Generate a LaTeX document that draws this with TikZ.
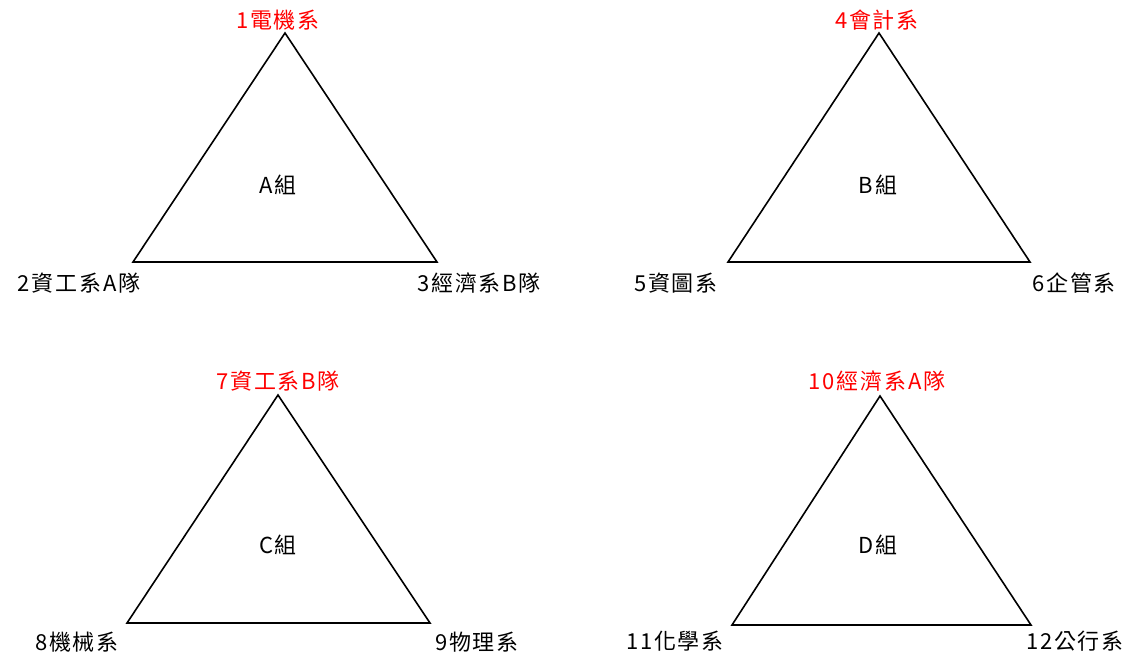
\documentclass[tikz,border=0pt]{standalone}
\usepackage{fontspec}
\setmainfont{Noto Sans CJK TC}[LetterSpace=8]
\usepackage{tikz}

\begin{document}
\begin{tikzpicture}[x=1pt,y=-1pt,
  tri/.style={draw=black,line width=1.6pt,line join=miter},
  lab/.style={inner sep=0pt,font=\fontsize{22}{24}\selectfont},
  head/.style={lab,text=red}]
\useasboundingbox (0,0) rectangle (1131,660);
% group A
\coordinate (a1) at (285,33);
\coordinate (a2) at (133,262);
\coordinate (a3) at (437,262);
\draw[tri] (a1)--(a2)--(a3)--cycle;
\node[head] (ha) at (278,20) {1電機系};
\node[lab] (la) at (79,283) {2資工系A隊};
\node[lab] (ra) at (479,283) {3經濟系B隊};
\node[lab] (ga) at (278,185) {A組};
% group B
\coordinate (b1) at (879,33);
\coordinate (b2) at (728,262);
\coordinate (b3) at (1030,262);
\draw[tri] (b1)--(b2)--(b3)--cycle;
\node[head] (hb) at (877,20) {4會計系};
\node[lab] (lb) at (676,283) {5資圖系};
\node[lab] (rb) at (1074,283) {6企管系};
\node[lab] (gb) at (878,185) {B組};
% group C
\coordinate (c1) at (278,395);
\coordinate (c2) at (127,623);
\coordinate (c3) at (430,623);
\draw[tri] (c1)--(c2)--(c3)--cycle;
\node[head] (hc) at (278,381) {7資工系B隊};
\node[lab] (lc) at (77,642) {8機械系};
\node[lab] (rc) at (477,642) {9物理系};
\node[lab] (gc) at (278,545) {C組};
% group D
\coordinate (d1) at (880,396);
\coordinate (d2) at (732,625);
\coordinate (d3) at (1031,625);
\draw[tri] (d1)--(d2)--(d3)--cycle;
\node[head] (hd) at (877,381) {10經濟系A隊};
\node[lab] (ld) at (675,641) {11化學系};
\node[lab] (rd) at (1075,641) {12公行系};
\node[lab] (gd) at (878,545) {D組};
\end{tikzpicture}
\end{document}
